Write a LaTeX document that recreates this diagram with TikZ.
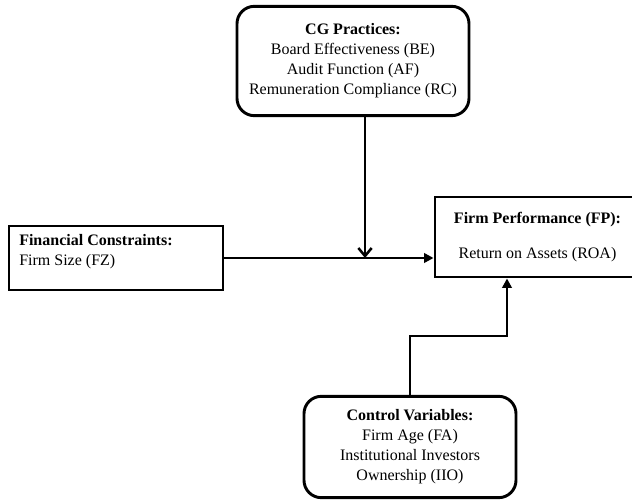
\documentclass[tikz,border=0pt]{standalone}
\usepackage{fontspec}
\setmainfont{Liberation Serif}
\usetikzlibrary{arrows.meta,positioning}

\tikzset{
	rbox/.style={draw, line width=2.2pt, rounded corners=13pt, align=center,
		font=\fontsize{12}{15}\selectfont},
	sbox/.style={draw, line width=2.2pt, align=center,
		font=\fontsize{12}{15}\selectfont},
	txt/.style={inner sep=0pt, align=left, font=\fontsize{12}{15}\selectfont},
	link/.style={line width=1.9pt},
}

\begin{document}
\begin{tikzpicture}[x=0.75pt,y=-0.75pt]
			\useasboundingbox (0,0) rectangle (632,502);
			% boxes
			\node[rbox, minimum width=174pt, minimum height=82pt] (cg) at (353,61)
				{\textbf{CG Practices:}\\Board Effectiveness (BE)\\Audit Function (AF)\\Remuneration Compliance (RC)};
			\node[sbox, minimum width=160.5pt, minimum height=48pt] (fc) at (116,258) {};
			\node[txt, anchor=north west] (fctxt) at (19,234)
				{\textbf{Financial Constraints:}\\Firm Size (FZ)};
			\node[sbox, minimum width=153.75pt, minimum height=60pt] (fp) at (537.5,237)
				{\textbf{Firm Performance (FP):}\\[11pt]Return on Assets (ROA)};
			\node[rbox, minimum width=159pt, minimum height=76pt] (cv) at (410,447)
				{\textbf{Control Variables:}\\Firm Age (FA)\\Institutional Investors\\Ownership (IIO)};
			% connectors
			\coordinate (j) at (365,258);
			\coordinate (k) at (507,336);
			\draw[link, -{Triangle[length=7pt,width=7pt]}] (fc.east) -- (fc.east -| fp.west);
			\draw[link, -{Straight Barb[length=6pt,width=10pt]}] (j |- cg.south) -- (j);
			\draw[link, -{Triangle[length=7pt,width=7pt]}] (cv.north) |- (k) -- (k |- fp.south);
		\end{tikzpicture}
\end{document}
